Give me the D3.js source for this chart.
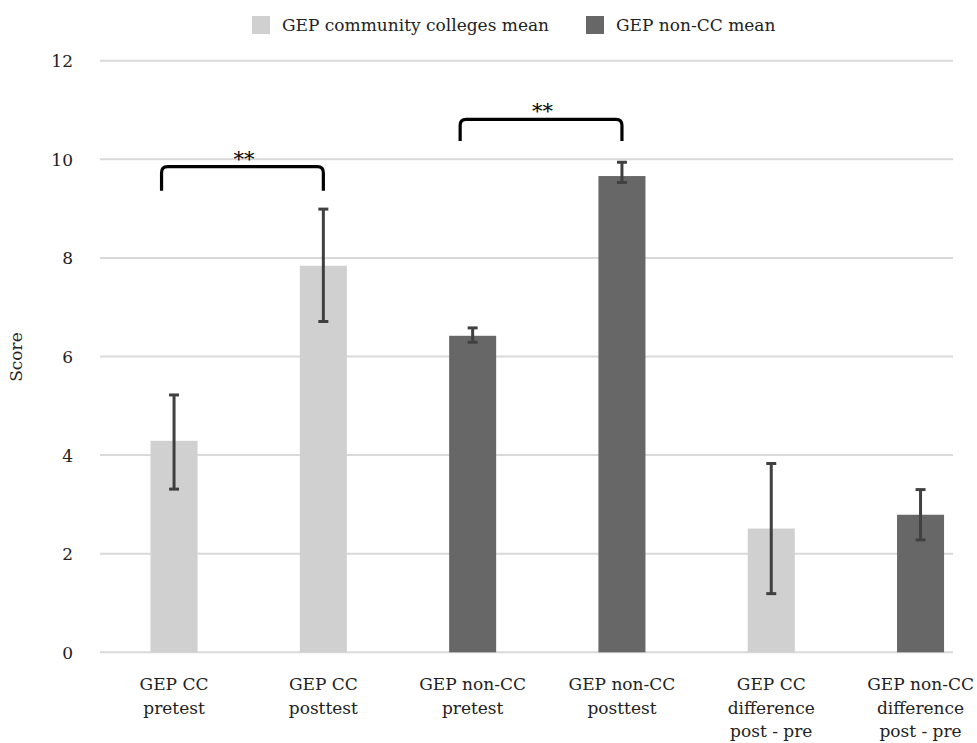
<!DOCTYPE html>
<html>
<head>
<meta charset="utf-8">
<script src="https://cdn.jsdelivr.net/npm/d3@7"></script>
<style>
  html, body { margin: 0; padding: 0; background: #fff; }
  svg { display: block; }
</style>
</head>
<body>
<svg id="chart" width="977" height="743"></svg>
<script>
// ---- data ----
const categories = [
  ["GEP CC", "pretest"],
  ["GEP CC", "posttest"],
  ["GEP non-CC", "pretest"],
  ["GEP non-CC", "posttest"],
  ["GEP CC", "difference", "post - pre"],
  ["GEP non-CC", "difference", "post - pre"]
];
const seriesOf = ["cc", "cc", "noncc", "noncc", "cc", "noncc"];
const means = [4.29, 7.84, 6.42, 9.66, 2.51, 2.79];
const errLow = [3.31, 6.71, 6.29, 9.53, 1.19, 2.28];
const errHigh = [5.22, 8.99, 6.58, 9.94, 3.83, 3.30];
const yTicks = [0, 2, 4, 6, 8, 10, 12];
const legendItems = [
  { key: "cc", label: "GEP community colleges mean" },
  { key: "noncc", label: "GEP non-CC mean" }
];
// significance brackets: from category i to category j, top and leg-bottom in score units
const brackets = [
  { from: 0, to: 1, top: 9.85, bottom: 9.36, label: "**" },
  { from: 2, to: 3, top: 10.81, bottom: 10.37, label: "**" }
];

// ---- styles ----
const FONT = "DejaVu Serif";
const FS = 17;
const colors = { cc: "#d0d0d0", noncc: "#676767" };
const svg = d3.select("#chart");

const x = d3.scaleBand()
  .domain(d3.range(categories.length))
  .range([99.4, 995.2])
  .paddingInner(0.685)
  .paddingOuter(0.3425);
const y = d3.scaleLinear().domain([0, 12]).range([652.3, 60.7]);
const cx = i => x(i) + x.bandwidth() / 2;

// gridlines
svg.append("g").selectAll("line").data(yTicks).join("line")
  .attr("x1", 100).attr("x2", 953)
  .attr("y1", d => y(d)).attr("y2", d => y(d))
  .attr("stroke", "#d9d9d9").attr("stroke-width", 2);

// y axis labels
const yAxis = d3.axisLeft(y).tickValues(yTicks).tickSize(0).tickPadding(0);
const gy = svg.append("g").attr("transform", "translate(73,0)").call(yAxis);
gy.attr("font-family", FONT).attr("font-size", FS);
gy.select(".domain").remove();
gy.selectAll("text")
  .attr("fill", "#222").attr("dy", "0.35em");

// y title
svg.append("text")
  .attr("transform", "translate(22,357) rotate(-90)")
  .attr("text-anchor", "middle")
  .attr("font-family", FONT)
  .attr("font-size", FS).attr("fill", "#222")
  .text("Score");

// bars
svg.append("g").selectAll("rect").data(means).join("rect")
  .attr("x", (d, i) => x(i))
  .attr("width", x.bandwidth())
  .attr("y", d => y(d))
  .attr("height", d => y(0) - y(d))
  .attr("fill", (d, i) => colors[seriesOf[i]]);

// error bars
const eb = svg.append("g").attr("stroke", "#404040").attr("stroke-width", 3);
means.forEach((m, i) => {
  const c = cx(i);
  eb.append("line").attr("x1", c).attr("x2", c).attr("y1", y(errLow[i])).attr("y2", y(errHigh[i]));
  eb.append("line").attr("x1", c - 5).attr("x2", c + 5).attr("y1", y(errLow[i])).attr("y2", y(errLow[i]));
  eb.append("line").attr("x1", c - 5).attr("x2", c + 5).attr("y1", y(errHigh[i])).attr("y2", y(errHigh[i]));
});

// x labels
const xl = svg.append("g");
categories.forEach((lines, i) => {
  const t = xl.append("text")
    .attr("x", cx(i)).attr("y", 690)
    .attr("text-anchor", "middle")
    .attr("font-family", FONT)
    .attr("font-size", FS).attr("fill", "#222");
  lines.forEach((ln, k) => {
    t.append("tspan").attr("x", cx(i)).attr("dy", k === 0 ? 0 : 23.5).text(ln);
  });
});

// brackets
const bg = svg.append("g");
brackets.forEach(b => {
  const x1 = cx(b.from) - 12.5, x2 = cx(b.to);
  const yt = y(b.top), yb = y(b.bottom), r = 6;
  const p = d3.path();
  p.moveTo(x1, yb);
  p.lineTo(x1, yt + r);
  p.quadraticCurveTo(x1, yt, x1 + r, yt);
  p.lineTo(x2 - r, yt);
  p.quadraticCurveTo(x2, yt, x2, yt + r);
  p.lineTo(x2, yb);
  bg.append("path").attr("d", p.toString())
    .attr("fill", "none").attr("stroke", "#000").attr("stroke-width", 3.2)
    .attr("stroke-linejoin", "round");
  bg.append("text")
    .attr("x", (x1 + x2) / 2 + 1.5).attr("y", yt - 1)
    .attr("text-anchor", "middle")
    .attr("font-family", FONT)
    .attr("font-size", 21).attr("fill", "#000")
    .text(b.label);
});

// legend
const legendX = [252, 586];
const lg = svg.append("g");
legendItems.forEach((it, i) => {
  lg.append("rect").attr("x", legendX[i]).attr("y", 16).attr("width", 18).attr("height", 18)
    .attr("fill", colors[it.key]);
  lg.append("text").attr("x", legendX[i] + 30).attr("y", 31)
    .attr("font-family", FONT)
    .attr("font-size", FS).attr("fill", "#222").text(it.label);
});
</script>
</body>
</html>
